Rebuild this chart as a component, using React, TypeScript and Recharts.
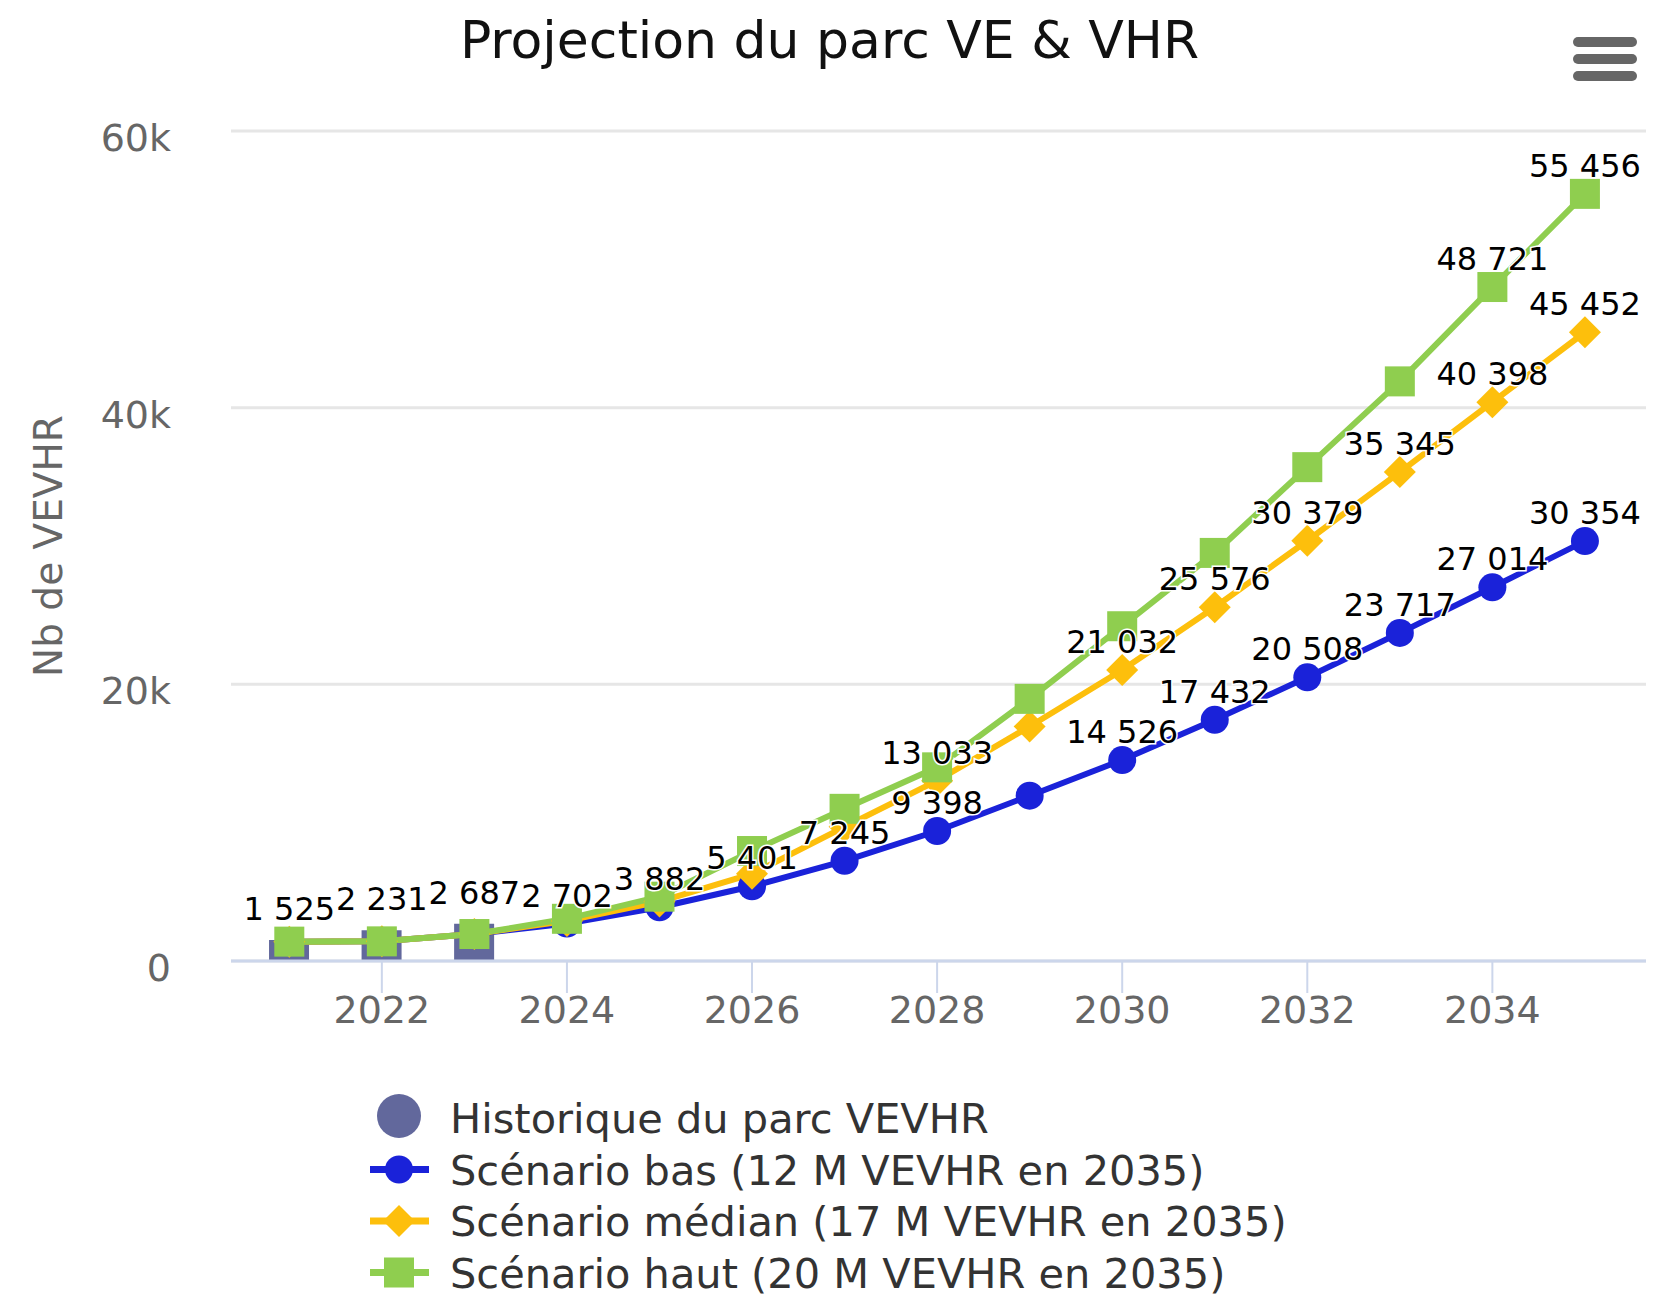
import React from 'react';
import { ComposedChart, Line, Bar, XAxis, YAxis, CartesianGrid, LabelList } from 'recharts';

const years = [2021, 2022, 2023, 2024, 2025, 2026, 2027, 2028, 2029, 2030, 2031, 2032, 2033, 2034, 2035];
const historique = [1525, 2231, 2687, null, null, null, null, null, null, null, null, null, null, null, null];
const scenarioBas = [1400, 1420, 1950, 2702, 3882, 5401, 7245, 9398, 11950, 14526, 17432, 20508, 23717, 27014, 30354];
const scenarioMedian = [1400, 1420, 1950, 2900, 4300, 6300, 9700, 13033, 16950, 21032, 25576, 30379, 35345, 40398, 45452];
const scenarioHaut = [1400, 1420, 1950, 3050, 4650, 7950, 11000, 14000, 18950, 24200, 29500, 35700, 41900, 48721, 55456];

const xTicks = [2022, 2024, 2026, 2028, 2030, 2032, 2034];
const yTicks = [0, 20000, 40000, 60000];

// labels that the original hides because they overlap
const basHidden = [0, 1, 2, 8];
const medianHidden = [0, 1, 2, 3, 4, 5, 6, 8];
const hautHidden = [0, 1, 2, 3, 4, 5, 6, 7, 8, 9, 10, 11, 12];

const seriesNames = [
  'Historique du parc VEVHR',
  'Scénario bas (12 M VEVHR en 2035)',
  'Scénario médian (17 M VEVHR en 2035)',
  'Scénario haut (20 M VEVHR en 2035)',
];

const PURPLE = '#62689c';
const BLUE = '#1a22d9';
const ORANGE = '#fdbf0c';
const GREEN = '#8fce4f';
const FONT = '"DejaVu Sans", Verdana, sans-serif';

const data = years.map((year, i) => ({
  year,
  historique: historique[i],
  bas: scenarioBas[i],
  median: scenarioMedian[i],
  haut: scenarioHaut[i],
}));

const fmt = (v: number) => String(v).replace(/\B(?=(\d{3})+(?!\d))/g, ' ');

const makeLabel = (hidden: number[], gap: number) => (props: any) => {
  const { index, value } = props;
  if (value == null || hidden.includes(index)) return null;
  const x = props.viewBox?.x ?? props.x;
  const y = props.viewBox?.y ?? props.y;
  return (
    <text
      key={`l-${index}`}
      x={x}
      y={y - gap}
      textAnchor="middle"
      fontSize={32}
      fontFamily={FONT}
      fill="#000"
      stroke="#fff"
      strokeWidth={3}
      paintOrder="stroke"
    >
      {fmt(value)}
    </text>
  );
};

const circleDot = (p: any) =>
  p.cy == null ? <g key={`c-${p.index}`} /> : <circle key={`c-${p.index}`} cx={p.cx} cy={p.cy} r={14} fill={BLUE} />;

const diamondDot = (p: any) =>
  p.cy == null ? (
    <g key={`d-${p.index}`} />
  ) : (
    <polygon
      key={`d-${p.index}`}
      points={`${p.cx},${p.cy - 16} ${p.cx + 16},${p.cy} ${p.cx},${p.cy + 16} ${p.cx - 16},${p.cy}`}
      fill={ORANGE}
    />
  );

const squareDot = (p: any) =>
  p.cy == null ? <g key={`s-${p.index}`} /> : <rect key={`s-${p.index}`} x={p.cx - 15} y={p.cy - 15} width={30} height={30} fill={GREEN} />;

const YTick = ({ x, y, payload }: any) => (
  <text x={x} y={y + 20} textAnchor="end" fontSize={38} fontFamily={FONT} fill="#666">
    {payload.value === 0 ? '0' : `${payload.value / 1000}k`}
  </text>
);

const legendItems = [
  { name: seriesNames[0], color: PURPLE, kind: 'column' },
  { name: seriesNames[1], color: BLUE, kind: 'circle' },
  { name: seriesNames[2], color: ORANGE, kind: 'diamond' },
  { name: seriesNames[3], color: GREEN, kind: 'square' },
];

function LegendSymbol({ kind, color, cy }: { kind: string; color: string; cy: number }) {
  const cx = 399;
  if (kind === 'column') return <circle cx={cx} cy={cy - 2} r={22} fill={color} />;
  return (
    <g>
      <line x1={370} x2={429} y1={cy} y2={cy} stroke={color} strokeWidth={7} />
      {kind === 'circle' && <circle cx={cx} cy={cy} r={14} fill={color} />}
      {kind === 'diamond' && (
        <polygon points={`${cx},${cy - 16} ${cx + 16},${cy} ${cx},${cy + 16} ${cx - 16},${cy}`} fill={color} />
      )}
      {kind === 'square' && <rect x={cx - 15} y={cy - 15} width={30} height={30} fill={color} />}
    </g>
  );
}

export default function App() {
  return (
    <div style={{ position: 'absolute', left: 0, top: 0, width: 1659, height: 1298, background: '#fff' }}>
      <ComposedChart width={1659} height={1298} data={data} margin={{ top: 131, right: 13, left: 0, bottom: 277 }}>
        <CartesianGrid vertical={false} stroke="#e6e6e6" strokeWidth={3} />
        <XAxis
          dataKey="year"
          type="number"
          domain={[2020.37, 2035.66]}
          allowDataOverflow
          ticks={xTicks}
          interval={0}
          height={60}
          tickSize={32}
          tickMargin={3}
          axisLine={{ stroke: '#ccd6eb', strokeWidth: 3 }}
          tickLine={{ stroke: '#ccd6eb', strokeWidth: 2 }}
          tick={{ fontSize: 38, fontFamily: FONT, fill: '#666' }}
        />
        <YAxis
          domain={[0, 60000]}
          ticks={yTicks}
          width={231}
          axisLine={false}
          tickLine={false}
          tickSize={0}
          tickMargin={60}
          tick={<YTick />}
          label={{
            content: (p: any) => {
              const vb = p.viewBox || { x: 0, y: 131, height: 830 };
              const cx = vb.x + 48;
              const cy = vb.y + vb.height / 2;
              return (
                <text
                  x={cx}
                  y={cy}
                  transform={`rotate(-90 ${cx} ${cy})`}
                  textAnchor="middle"
                  dominantBaseline="central"
                  fontSize={39}
                  fontFamily={FONT}
                  fill="#666"
                >
                  Nb de VEVHR
                </text>
              );
            },
          }}
        />
        <Bar dataKey="historique" fill={PURPLE} barSize={40} isAnimationActive={false} />
        <Line dataKey="bas" stroke={BLUE} strokeWidth={6} dot={circleDot} activeDot={false} isAnimationActive={false} />
        <Line dataKey="median" stroke={ORANGE} strokeWidth={6} dot={diamondDot} activeDot={false} isAnimationActive={false} />
        <Line dataKey="haut" stroke={GREEN} strokeWidth={6} dot={squareDot} activeDot={false} isAnimationActive={false} />
        {/* label-only layers so data labels sit above every series */}
        <Line dataKey="historique" stroke="none" dot={false} activeDot={false} isAnimationActive={false}>
          <LabelList dataKey="historique" content={makeLabel([], 20)} />
        </Line>
        <Line dataKey="bas" stroke="none" dot={false} activeDot={false} isAnimationActive={false}>
          <LabelList dataKey="bas" content={makeLabel(basHidden, 17)} />
        </Line>
        <Line dataKey="median" stroke="none" dot={false} activeDot={false} isAnimationActive={false}>
          <LabelList dataKey="median" content={makeLabel(medianHidden, 17)} />
        </Line>
        <Line dataKey="haut" stroke="none" dot={false} activeDot={false} isAnimationActive={false}>
          <LabelList dataKey="haut" content={makeLabel(hautHidden, 17)} />
        </Line>
      </ComposedChart>
      <svg width={1659} height={1298} style={{ position: 'absolute', left: 0, top: 0, pointerEvents: 'none' }}>
        <text x={829.5} y={58} textAnchor="middle" fontSize={52} fontFamily={FONT} fill="#111">
          Projection du parc VE &amp; VHR
        </text>
        <g stroke="#666" strokeWidth={10} strokeLinecap="round">
          <line x1={1578} x2={1632} y1={42} y2={42} />
          <line x1={1578} x2={1632} y1={59} y2={59} />
          <line x1={1578} x2={1632} y1={76} y2={76} />
        </g>
        {legendItems.map((item, i) => {
          const cy = 1118 + i * 51.5;
          return (
            <g key={item.name}>
              <LegendSymbol kind={item.kind} color={item.color} cy={cy} />
              <text x={450} y={cy + 15} fontSize={41.5} fontFamily={FONT} fill="#333">
                {item.name}
              </text>
            </g>
          );
        })}
      </svg>
    </div>
  );
}
